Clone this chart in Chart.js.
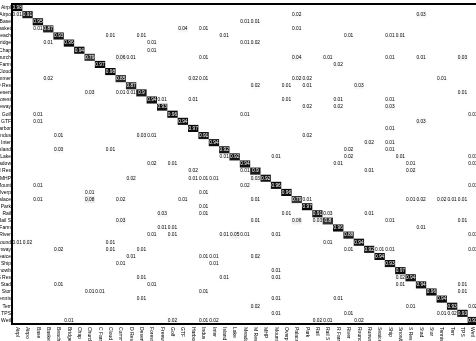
<!DOCTYPE html>
<html>
<head>
<meta charset="utf-8">
<script src="https://cdn.jsdelivr.net/npm/chart.js@4/dist/chart.umd.min.js"></script>
<style>
  html, body { margin: 0; padding: 0; overflow: hidden; background: #fff; }
  canvas { display: block; }
</style>
</head>
<body>
<canvas id="chart" width="490" height="341"></canvas>
<script>
const classNames = ['Airpl', 'Airpo', 'Base', 'Basket', 'Beach', 'Bridge', 'Chap', 'Church', 'C Farm', 'Cloud',
    'Commer', 'D Res', 'Desert', 'Forest', 'Freeway', 'Golf', 'GTF', 'Harbor', 'Indus', 'Inter',
    'Island', 'Lake', 'Meadow', 'M Res', 'MHP', 'Mount', 'Overp', 'Palace', 'Park', 'Rail',
    'Rail S', 'R Farm', 'River', 'Round', 'Runway', 'Seaice', 'Ship', 'Snowb', 'S Res', 'Stad',
    'Stor', 'Tennis', 'Terr', 'TPS', 'Wetl'];

// correct-class rates, one per class
const diagonal = [0.98, 0.91, 0.95, 0.87, 0.93, 0.96, 0.94, 0.79, 0.97, 0.98,
    0.85, 0.87, 0.9, 0.94, 0.93, 0.96, 0.94, 0.97, 0.91, 0.94,
    0.92, 0.92, 0.94, 0.9, 0.92, 0.96, 0.96, 0.79, 0.97, 0.91,
    0.8, 0.96, 0.88, 0.94, 0.92, 0.94, 0.93, 0.97, 0.94, 0.94,
    0.96, 0.94, 0.93, 0.93, 0.91];

// off-diagonal: [true class, predicted class, rate]
const confusions = [
    ['Airpo', 'Airpl', 0.01], ['Airpo', 'Palace', 0.02], ['Airpo', 'Stad', 0.03],
    ['Base', 'Meadow', 0.01], ['Base', 'M Res', 0.01],
    ['Basket', 'Base', 0.01], ['Basket', 'GTF', 0.04], ['Basket', 'Indus', 0.01], ['Basket', 'Palace', 0.01],
    ['Beach', 'Cloud', 0.01], ['Beach', 'Desert', 0.01], ['Beach', 'Island', 0.01], ['Beach', 'River', 0.01], ['Beach', 'Ship', 0.01], ['Beach', 'Snowb', 0.01],
    ['Bridge', 'Basket', 0.01], ['Bridge', 'Forest', 0.01], ['Bridge', 'Meadow', 0.01], ['Bridge', 'M Res', 0.02],
    ['Chap', 'Forest', 0.01],
    ['Church', 'Commer', 0.06], ['Church', 'D Res', 0.01], ['Church', 'Indus', 0.01], ['Church', 'Palace', 0.04], ['Church', 'Rail S', 0.01], ['Church', 'Ship', 0.01], ['Church', 'Stad', 0.01], ['Church', 'TPS', 0.03],
    ['C Farm', 'R Farm', 0.02],
    ['Commer', 'Basket', 0.02], ['Commer', 'Harbor', 0.02], ['Commer', 'Indus', 0.01], ['Commer', 'Palace', 0.02], ['Commer', 'Park', 0.02], ['Commer', 'Tennis', 0.01],
    ['D Res', 'M Res', 0.02], ['D Res', 'Overp', 0.01], ['D Res', 'Park', 0.01], ['D Res', 'Round', 0.03],
    ['Desert', 'Church', 0.03], ['Desert', 'Commer', 0.01], ['Desert', 'D Res', 0.01], ['Desert', 'TPS', 0.01],
    ['Forest', 'Freeway', 0.01], ['Forest', 'Harbor', 0.01], ['Forest', 'Overp', 0.01], ['Forest', 'R Farm', 0.01], ['Forest', 'Ship', 0.01],
    ['Freeway', 'Park', 0.02], ['Freeway', 'R Farm', 0.02], ['Freeway', 'Ship', 0.03],
    ['Golf', 'Base', 0.01], ['Golf', 'Meadow', 0.01], ['Golf', 'Wetl', 0.01],
    ['GTF', 'Base', 0.01], ['GTF', 'Stad', 0.03],
    ['Harbor', 'Ship', 0.01],
    ['Indus', 'Beach', 0.01], ['Indus', 'Desert', 0.03], ['Indus', 'Forest', 0.01], ['Indus', 'Park', 0.02],
    ['Inter', 'Runway', 0.02], ['Inter', 'Ship', 0.01],
    ['Island', 'Beach', 0.03], ['Island', 'Cloud', 0.01], ['Island', 'River', 0.02], ['Island', 'Ship', 0.01],
    ['Lake', 'Island', 0.01], ['Lake', 'Mount', 0.01], ['Lake', 'River', 0.02], ['Lake', 'Snowb', 0.01], ['Lake', 'Wetl', 0.01],
    ['Meadow', 'Forest', 0.02], ['Meadow', 'Golf', 0.01], ['Meadow', 'R Farm', 0.01], ['Meadow', 'S Res', 0.01], ['Meadow', 'Wetl', 0.01],
    ['M Res', 'Harbor', 0.02], ['M Res', 'Meadow', 0.01], ['M Res', 'Runway', 0.01], ['M Res', 'S Res', 0.02],
    ['MHP', 'D Res', 0.02], ['MHP', 'Harbor', 0.01], ['MHP', 'Indus', 0.01], ['MHP', 'Inter', 0.01], ['MHP', 'M Res', 0.03],
    ['Mount', 'Base', 0.01], ['Mount', 'Meadow', 0.02], ['Mount', 'Wetl', 0.01],
    ['Overp', 'Church', 0.01], ['Overp', 'Indus', 0.01],
    ['Palace', 'Base', 0.01], ['Palace', 'Church', 0.08], ['Palace', 'Commer', 0.02], ['Palace', 'GTF', 0.01], ['Palace', 'M Res', 0.01], ['Palace', 'Park', 0.01],
    ['Palace', 'S Res', 0.01], ['Palace', 'Stad', 0.02], ['Palace', 'Tennis', 0.02], ['Palace', 'Terr', 0.01], ['Palace', 'TPS', 0.01],
    ['Park', 'Indus', 0.01],
    ['Rail', 'Freeway', 0.03], ['Rail', 'Indus', 0.01], ['Rail', 'Overp', 0.01], ['Rail', 'Rail S', 0.03], ['Rail', 'Runway', 0.01],
    ['Rail S', 'Commer', 0.03], ['Rail S', 'M Res', 0.01], ['Rail S', 'Palace', 0.06], ['Rail S', 'Rail', 0.03], ['Rail S', 'Ship', 0.01], ['Rail S', 'TPS', 0.01],
    ['R Farm', 'Freeway', 0.01], ['R Farm', 'Golf', 0.01], ['R Farm', 'Stad', 0.01],
    ['River', 'Forest', 0.01], ['River', 'Golf', 0.01], ['River', 'Island', 0.01], ['River', 'Lake', 0.05], ['River', 'Meadow', 0.01], ['River', 'Mount', 0.01], ['River', 'Wetl', 0.01],
    ['Round', 'Airpl', 0.01], ['Round', 'Airpo', 0.02], ['Round', 'Cloud', 0.01], ['Round', 'Rail S', 0.01],
    ['Runway', 'Beach', 0.02], ['Runway', 'Cloud', 0.01], ['Runway', 'Desert', 0.01], ['Runway', 'River', 0.01], ['Runway', 'Seaice', 0.01], ['Runway', 'Ship', 0.01], ['Runway', 'Wetl', 0.01],
    ['Seaice', 'D Res', 0.01], ['Seaice', 'Indus', 0.01], ['Seaice', 'Inter', 0.01], ['Seaice', 'M Res', 0.02],
    ['Ship', 'Commer', 0.01], ['Ship', 'Inter', 0.01],
    ['Snowb', 'Mount', 0.01],
    ['S Res', 'Desert', 0.01], ['S Res', 'Island', 0.01], ['S Res', 'Mount', 0.01], ['S Res', 'Snowb', 0.02],
    ['Stad', 'Beach', 0.01], ['Stad', 'Forest', 0.01], ['Stad', 'Snowb', 0.01], ['Stad', 'TPS', 0.01],
    ['Stor', 'Church', 0.01], ['Stor', 'C Farm', 0.01], ['Stor', 'Indus', 0.01], ['Stor', 'TPS', 0.01],
    ['Tennis', 'Desert', 0.01], ['Tennis', 'Mount', 0.01], ['Tennis', 'R Farm', 0.01],
    ['Terr', 'M Res', 0.02], ['Terr', 'S Res', 0.01], ['Terr', 'Wetl', 0.02],
    ['TPS', 'Mount', 0.01], ['TPS', 'River', 0.01], ['TPS', 'Tennis', 0.01], ['TPS', 'Terr', 0.02],
    ['Wetl', 'Bridge', 0.01], ['Wetl', 'Golf', 0.02], ['Wetl', 'Indus', 0.01], ['Wetl', 'Inter', 0.02], ['Wetl', 'Rail', 0.02], ['Wetl', 'Rail S', 0.01], ['Wetl', 'Round', 0.02],
];

const matrix = classNames.map((_, r) => classNames.map((_, c) => (r === c ? diagonal[r] : 0)));
confusions.forEach(([t, p, v]) => {
    matrix[classNames.indexOf(t)][classNames.indexOf(p)] = v;
});

function shade(v) {
    const g = Math.round(255 * (1 - v));
    return `rgb(${g},${g},${g})`;
}

const FONT = '"Liberation Sans", Arial, sans-serif';

// one floating-bar dataset per row of the matrix
const datasets = matrix.map((row, r) => ({
    label: classNames[r],
    data: row.map((v) => (v ? [r - 0.5, r + 0.5] : null)),
    values: row,
    backgroundColor: row.map(shade),
    borderWidth: 0,
    inflateAmount: 0,
    grouped: false,
    barPercentage: 1,
    categoryPercentage: 1,
}));

const cellText = {
    id: 'cellText',
    afterDatasetsDraw(chart) {
        const ctx = chart.ctx;
        const area = chart.chartArea;
        ctx.save();
        ctx.font = `4.8px ${FONT}`;
        ctx.textAlign = 'center';
        ctx.textBaseline = 'middle';
        chart.data.datasets.forEach((ds, r) => {
            chart.getDatasetMeta(r).data.forEach((bar, c) => {
                const v = ds.values[c];
                if (!v) return;
                ctx.fillStyle = v > 0.5 ? '#fff' : '#000';
                ctx.fillText(String(v), bar.x, (bar.y + bar.base) / 2);
            });
        });

        // frame round the matrix
        ctx.lineWidth = 2;
        ctx.strokeStyle = '#000';
        ctx.strokeRect(area.left, area.top, area.right - area.left, area.bottom - area.top);

        // x labels, turned clockwise
        ctx.font = `5px ${FONT}`;
        ctx.fillStyle = '#000';
        ctx.textAlign = 'left';
        classNames.forEach((name, i) => {
            const x = chart.scales.x.getPixelForValue(i);
            ctx.save();
            ctx.translate(x, area.bottom + 3);
            ctx.rotate(Math.PI / 2);
            ctx.fillText(name, 0, 0);
            ctx.restore();
        });
        ctx.restore();
    },
};

const ctx = document.getElementById('chart').getContext('2d');
new Chart(ctx, {
    type: 'bar',
    data: { labels: classNames, datasets: datasets },
    options: {
        responsive: false,
        animation: false,
        devicePixelRatio: 1,
        layout: { padding: { top: 3, right: 12, left: 0, bottom: 0 } },
        plugins: { legend: { display: false }, tooltip: { enabled: false } },
        scales: {
            x: {
                type: 'category',
                grid: { display: false },
                border: { display: false },
                ticks: { display: false },
                afterFit: (s) => { s.height = 17; },
            },
            y: {
                type: 'linear',
                reverse: true,
                min: -0.5,
                max: 44.5,
                grid: { display: false, drawTicks: false },
                border: { display: false },
                afterBuildTicks: (s) => { s.ticks = classNames.map((_, i) => ({ value: i })); },
                ticks: {
                    autoSkip: false,
                    padding: 1,
                    color: '#000',
                    font: { family: FONT, size: 5 },
                    callback: (v) => classNames[v],
                },
                afterFit: (s) => { s.width = 12; },
            },
        },
    },
    plugins: [cellText],
});
</script>
</body>
</html>
